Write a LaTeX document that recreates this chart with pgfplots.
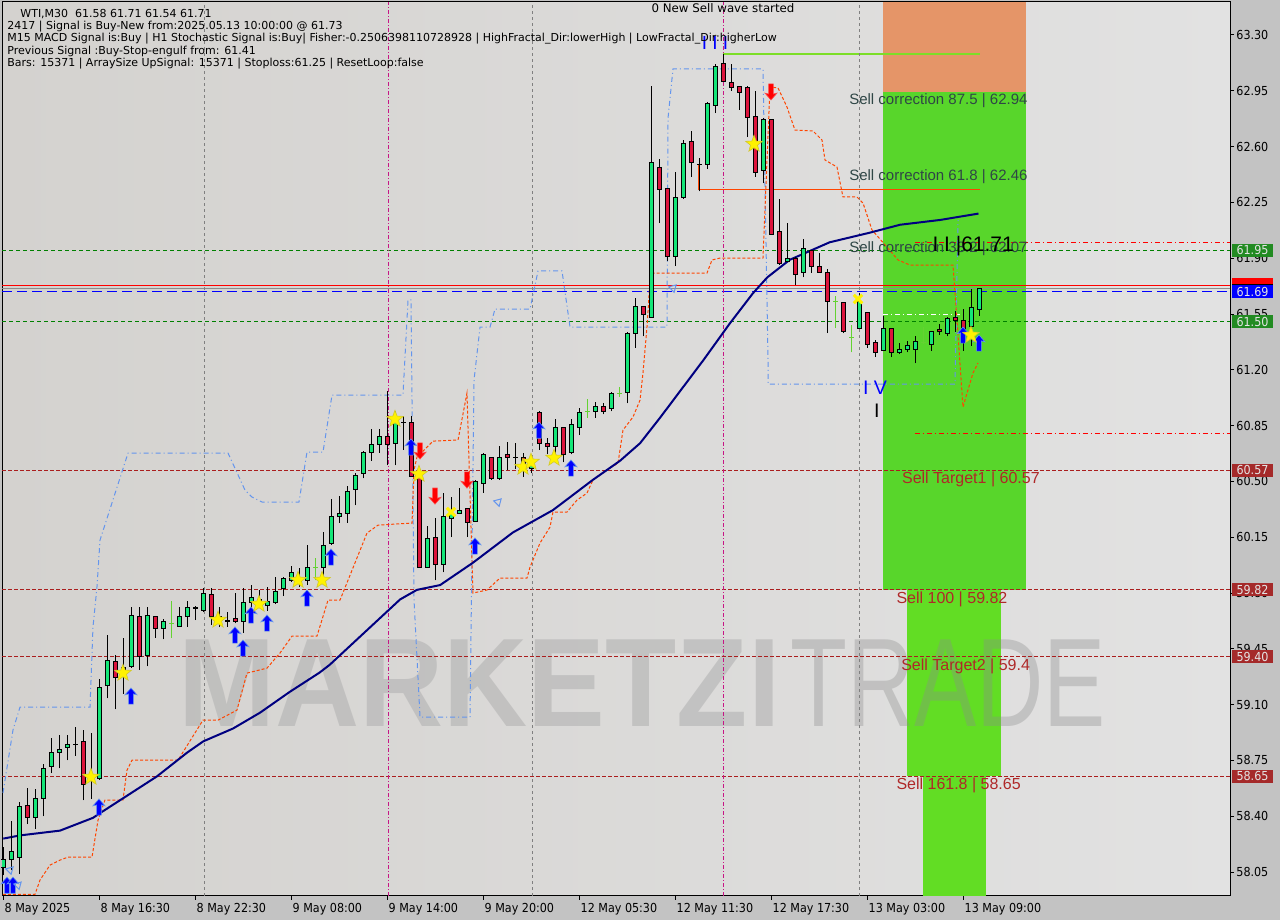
\documentclass[border=0pt]{standalone}
\usepackage{fontspec}
\setmainfont{Liberation Sans}
\newfontfamily\tah{DejaVu Sans Condensed}
\newfontfamily\dvs{DejaVu Sans}
\usepackage{pgfplots}
\usepackage{pgfplotstable}
\pgfplotsset{compat=1.18}

\definecolor{cOut}{RGB}{195,195,195}
\definecolor{bgL}{RGB}{212,210,207}
\definecolor{bgR}{RGB}{226,226,226}
\definecolor{cG}{RGB}{20,230,120}
\definecolor{cR}{RGB}{220,20,60}
\definecolor{cL}{RGB}{100,210,50}
\definecolor{cMA}{RGB}{0,0,128}
\definecolor{cCorn}{RGB}{100,149,237}
\definecolor{cOr}{RGB}{255,69,0}
\definecolor{cDG}{RGB}{0,128,0}
\definecolor{cBr}{RGB}{170,30,30}
\definecolor{cMag}{RGB}{199,21,133}
\definecolor{cZone}{RGB}{88,214,43}
\definecolor{cZone2}{RGB}{98,221,36}
\definecolor{cSal}{RGB}{229,149,104}
\definecolor{cTxt}{RGB}{47,70,70}
\definecolor{cTgt}{RGB}{175,40,40}
\definecolor{cLime}{RGB}{124,222,40}
\definecolor{cBoxG}{RGB}{34,139,34}
\definecolor{cBoxB}{RGB}{0,0,255}
\definecolor{cBoxR}{RGB}{165,42,42}

% candles: index, low, body low, body high, high
\pgfplotstableread{
i L B T H
0 58.03 58.08 58.13 58.21
1 58.06 58.13 58.18 58.37
2 58.04 58.14 58.46 58.49
4 58.32 58.39 58.51 58.57
5 58.40 58.51 58.70 58.73
6 58.67 58.71 58.80 58.89
7 58.70 58.80 58.82 58.91
8 58.75 58.83 58.85 58.91
11 58.51 58.63 58.65 58.92
12 58.63 58.64 59.21 59.26
13 59.14 59.22 59.38 59.54
15 59.17 59.30 59.33 59.52
16 59.33 59.34 59.66 59.71
18 59.34 59.41 59.66 59.71
20 59.51 59.58 59.62 59.64
22 59.59 59.59 59.65 59.71
23 59.59 59.65 59.71 59.75
25 59.68 59.69 59.80 59.83
27 59.59 59.63 59.65 59.71
28 59.59 59.62 59.63 59.68
30 59.55 59.62 59.74 59.83
31 59.68 59.74 59.77 59.85
32 59.71 59.74 59.76 59.82
33 59.69 59.72 59.75 59.84
34 59.73 59.74 59.81 59.90
35 59.78 59.83 59.89 59.90
36 59.87 59.88 59.93 59.97
37 59.84 59.87 59.89 59.96
38 59.85 59.88 59.96 60.10
40 59.87 59.96 60.10 60.18
41 60.10 60.11 60.28 60.39
42 60.24 60.28 60.30 60.41
43 60.24 60.30 60.44 60.47
44 60.35 60.45 60.54 60.55
45 60.52 60.55 60.68 60.69
46 60.63 60.68 60.73 60.83
47 60.68 60.73 60.78 60.83
49 60.60 60.74 60.87 60.94
53 59.96 59.96 60.14 60.22
55 59.93 59.98 60.28 60.43
56 60.15 60.27 60.30 60.40
57 60.30 60.30 60.32 60.46
59 60.25 60.25 60.50 60.51
60 60.43 60.49 60.67 60.68
62 60.51 60.52 60.65 60.72
66 60.55 60.58 60.62 60.65
69 60.65 60.72 60.84 60.89
71 60.67 60.68 60.86 60.89
72 60.79 60.84 60.93 60.96
74 60.90 60.94 60.97 61.00
76 60.94 60.96 61.05 61.06
78 60.99 61.06 61.43 61.44
79 61.34 61.43 61.60 61.65
81 61.53 61.53 62.50 62.98
84 61.85 61.91 62.28 62.44
85 62.27 62.28 62.62 62.64
88 62.46 62.49 62.87 62.88
89 62.81 62.86 63.10 63.12
95 62.37 62.45 62.77 62.78
98 61.88 61.88 61.90 62.12
100 61.78 61.81 61.96 62.02
107 61.46 61.46 61.63 61.68
110 61.32 61.32 61.46 61.54
112 61.30 61.31 61.33 61.37
113 61.31 61.33 61.35 61.38
114 61.24 61.33 61.38 61.41
116 61.32 61.36 61.44 61.44
118 61.41 61.43 61.52 61.53
121 61.35 61.47 61.59 61.71
122 61.54 61.58 61.71 61.71
}\candG
\pgfplotstableread{
i L B T H
3 58.35 58.39 58.47 58.58
10 58.50 58.60 58.87 58.94
14 59.07 59.27 59.37 59.41
17 59.32 59.40 59.65 59.71
19 59.52 59.58 59.65 59.65
24 59.63 59.70 59.71 59.72
26 59.60 59.65 59.79 59.83
29 59.61 59.62 59.64 59.80
48 60.60 60.73 60.78 61.07
51 60.53 60.53 60.87 60.91
52 59.96 59.96 60.53 60.57
54 59.88 59.98 60.15 60.27
58 60.15 60.24 60.33 60.33
61 60.51 60.52 60.65 60.65
63 60.57 60.65 60.67 60.75
65 60.53 60.60 60.65 60.68
67 60.70 60.74 60.93 60.94
68 60.67 60.72 60.74 60.77
70 60.62 60.67 60.84 60.84
75 60.92 60.94 60.97 60.99
80 61.41 61.55 61.60 61.60
82 62.12 62.33 62.47 62.52
83 61.88 61.91 62.34 62.34
86 62.41 62.50 62.63 62.70
90 63.01 63.01 63.12 63.18
91 62.95 62.97 63.00 63.12
92 62.83 62.94 62.98 62.98
93 62.66 62.78 62.97 62.98
94 62.41 62.44 62.79 62.95
96 62.05 62.05 62.77 62.77
97 61.86 61.87 62.07 62.27
99 61.73 61.80 61.90 61.91
101 61.81 61.85 61.95 61.95
102 61.81 61.81 61.85 61.93
103 61.43 61.63 61.81 61.83
105 61.43 61.44 61.62 61.62
108 61.34 61.36 61.56 61.56
109 61.28 61.31 61.37 61.39
111 61.28 61.31 61.46 61.46
117 61.42 61.44 61.45 61.49
119 61.44 61.51 61.53 61.57
120 61.32 61.44 61.51 61.58
}\candR
\pgfplotstableread{
i L B T H
9 58.78 58.85 58.85 58.96
50 60.70 60.87 60.87 60.91
64 60.58 60.65 60.65 60.74
87 62.32 62.49 62.49 62.53
}\candD
\pgfplotstableread{
i L B T H
21 59.52 59.61 59.61 59.75
39 59.88 59.96 59.96 60.02
73 60.90 60.94 60.94 61.02
77 61.03 61.05 61.05 61.09
104 61.46 61.63 61.63 61.66
106 61.31 61.40 61.40 61.48
115 61.36 61.37 61.37 61.47
}\candL

\pgfdeclareplotmark{fstar}{%
 \pgfpathmoveto{\pgfpointpolar{90}{\pgfplotmarksize}}%
 \pgfpathlineto{\pgfpointpolar{126}{0.42\pgfplotmarksize}}%
 \pgfpathlineto{\pgfpointpolar{162}{\pgfplotmarksize}}%
 \pgfpathlineto{\pgfpointpolar{198}{0.42\pgfplotmarksize}}%
 \pgfpathlineto{\pgfpointpolar{234}{\pgfplotmarksize}}%
 \pgfpathlineto{\pgfpointpolar{270}{0.42\pgfplotmarksize}}%
 \pgfpathlineto{\pgfpointpolar{306}{\pgfplotmarksize}}%
 \pgfpathlineto{\pgfpointpolar{342}{0.42\pgfplotmarksize}}%
 \pgfpathlineto{\pgfpointpolar{18}{\pgfplotmarksize}}%
 \pgfpathlineto{\pgfpointpolar{54}{0.42\pgfplotmarksize}}%
 \pgfpathclose\pgfusepathqfillstroke}
\pgfdeclareplotmark{uarr}{%
 \pgfpathmoveto{\pgfpoint{0pt}{1.35\pgfplotmarksize}}%
 \pgfpathlineto{\pgfpoint{1.0\pgfplotmarksize}{0.2\pgfplotmarksize}}%
 \pgfpathlineto{\pgfpoint{0.4\pgfplotmarksize}{0.35\pgfplotmarksize}}%
 \pgfpathlineto{\pgfpoint{0.4\pgfplotmarksize}{-1.35\pgfplotmarksize}}%
 \pgfpathlineto{\pgfpoint{-0.4\pgfplotmarksize}{-1.35\pgfplotmarksize}}%
 \pgfpathlineto{\pgfpoint{-0.4\pgfplotmarksize}{0.35\pgfplotmarksize}}%
 \pgfpathlineto{\pgfpoint{-1.0\pgfplotmarksize}{0.2\pgfplotmarksize}}%
 \pgfpathclose\pgfusepathqfillstroke}
\pgfdeclareplotmark{darr}{%
 \pgfpathmoveto{\pgfpoint{0pt}{-1.35\pgfplotmarksize}}%
 \pgfpathlineto{\pgfpoint{1.0\pgfplotmarksize}{-0.2\pgfplotmarksize}}%
 \pgfpathlineto{\pgfpoint{0.4\pgfplotmarksize}{-0.35\pgfplotmarksize}}%
 \pgfpathlineto{\pgfpoint{0.4\pgfplotmarksize}{1.35\pgfplotmarksize}}%
 \pgfpathlineto{\pgfpoint{-0.4\pgfplotmarksize}{1.35\pgfplotmarksize}}%
 \pgfpathlineto{\pgfpoint{-0.4\pgfplotmarksize}{-0.35\pgfplotmarksize}}%
 \pgfpathlineto{\pgfpoint{-1.0\pgfplotmarksize}{-0.2\pgfplotmarksize}}%
 \pgfpathclose\pgfusepathqfillstroke}

% wick from low to high
\newcommand\Wick[2]{\addplot[draw=none, mark=none, error bars/.cd, y dir=plus, y explicit, error mark=none, error bar style={draw=#2, line width=0.5pt}] table[x=i, y=L, y error plus expr=\thisrow{H}-\thisrow{L}] {#1};}
% body from B to T
\newcommand\Body[3]{\addplot[draw=none, mark=none, error bars/.cd, y dir=plus, y explicit, error mark=none, error bar style={draw=#2, line width=#3}] table[x=i, y=B, y error plus expr=\thisrow{T}-\thisrow{B}] {#1};}
\newcommand\Cap[3]{\addplot[only marks, mark=-, mark size=1.3pt, mark options={draw=#3, line width=0.5pt}] table[x=i, y=#2] {#1};}
\newcommand\hdr{\dvs\fontsize{5.5}{6}\selectfont}

\begin{document}
\begin{tikzpicture}
\fill[cOut] (0,0) rectangle (640pt,460pt);
\path[use as bounding box] (0,0) rectangle (640pt,460pt);
\begin{axis}[
 at={(1pt,12pt)}, anchor=south west,
 scale only axis, width=614pt, height=447pt,
 xmin=-0.1625, xmax=153.3375, ymin=57.90, ymax=63.507,
 axis line style={black, line width=0.5pt},
 axis background/.style={left color=bgL, right color=bgR},
 xtick={0,12,24,36,48,60,72,84,96,108,120},
 xticklabels={8 May 2025, 8 May 16:30, 8 May 22:30, 9 May 08:00, 9 May 14:00, 9 May 20:00, 12 May 05:30, 12 May 11:30, 12 May 17:30, 13 May 03:00, 13 May 09:00},
 ytick={58.05,58.40,58.75,59.10,59.45,59.80,60.15,60.50,60.85,61.20,61.55,61.90,62.25,62.60,62.95,63.30},
 yticklabel pos=right, xtick pos=left, ytick pos=right,
 tick align=outside, major tick length=2pt,
 tick style={black, line width=0.5pt},
 /pgf/number format/assume math mode=true,
 yticklabel style={/pgf/number format/.cd, fixed, fixed zerofill, precision=2, /tikz/.cd, anchor=west, inner sep=0pt, xshift=1pt},
 xticklabel style={anchor=north west, inner sep=0pt, xshift=0.5pt, yshift=-1.5pt},
 tick label style={font=\tah\fontsize{6.2}{7}\selectfont, text=black},
 clip=true,
]
% zones
\addplot[fill=cSal, draw=none] coordinates {(109.96,62.94) (127.8,62.94) (127.8,63.507) (109.96,63.507)} --cycle;
\addplot[fill=cZone, draw=none] coordinates {(109.96,59.82) (127.8,59.82) (127.8,62.94) (109.96,62.94)} --cycle;
\addplot[fill=cZone2, draw=none] coordinates {(112.96,58.65) (124.7,58.65) (124.7,59.82) (112.96,59.82)} --cycle;
\addplot[fill=cZone2, draw=none] coordinates {(114.96,57.90) (122.8,57.90) (122.8,58.65) (114.96,58.65)} --cycle;
% watermark
\node[anchor=base west, inner sep=0, text=black!30, opacity=0.6, font=\bfseries\fontsize{63}{63}\selectfont] at (axis cs:21.84,58.96) {\scalebox{0.925}[1]{MARKETZI}};
\node[anchor=base west, inner sep=0, text=black!45, opacity=0.35, font=\fontsize{63}{63}\selectfont] at (axis cs:98.3,58.96) {\scalebox{0.74}[1]{TRADE}};
% horizontal levels
\addplot[cDG, line width=0.5pt, dash pattern=on 2pt off 1.5pt] coordinates {(-0.1625,61.95) (153.3375,61.95)};
\addplot[cDG, line width=0.5pt, dash pattern=on 2pt off 1.5pt] coordinates {(-0.1625,61.50) (153.3375,61.50)};
\addplot[cBr, line width=0.5pt, dash pattern=on 2pt off 1pt] coordinates {(-0.1625,60.57) (153.3375,60.57)};
\addplot[cBr, line width=0.5pt, dash pattern=on 2pt off 1pt] coordinates {(-0.1625,59.82) (153.3375,59.82)};
\addplot[cBr, line width=0.5pt, dash pattern=on 2pt off 1pt] coordinates {(-0.1625,59.40) (153.3375,59.40)};
\addplot[cBr, line width=0.5pt, dash pattern=on 2pt off 1pt] coordinates {(-0.1625,58.65) (153.3375,58.65)};
\addplot[red, line width=0.5pt] coordinates {(-0.1625,61.732) (153.3375,61.732)};
\addplot[black!45, line width=0.5pt] coordinates {(-0.1625,61.71) (153.3375,61.71)};
\addplot[blue, line width=0.5pt, dash pattern=on 5pt off 2.5pt] coordinates {(-0.1625,61.69) (153.3375,61.69)};
\addplot[red, line width=0.5pt, dash pattern=on 2.5pt off 1.5pt on 0.5pt off 1.5pt] coordinates {(113.96,62.00) (153.3375,62.00)};
\addplot[red, line width=0.5pt, dash pattern=on 2.5pt off 1.5pt on 0.5pt off 1.5pt] coordinates {(113.96,60.80) (153.3375,60.80)};
\addplot[white, line width=0.5pt, dash pattern=on 2.5pt off 1.5pt on 0.5pt off 1.5pt] coordinates {(109.96,61.544) (119.96,61.544)};
\addplot[cLime, line width=0.75pt] coordinates {(89.96,63.18) (122.1,63.18)};
\addplot[cOr, line width=0.75pt] coordinates {(86.96,62.49) (86.96,62.33) (122.1,62.33)};
% vertical lines
\addplot[black!50, line width=0.5pt, dash pattern=on 1.5pt off 1.5pt] coordinates {(25.1,57.9) (25.1,63.507)};
\addplot[black!50, line width=0.5pt, dash pattern=on 1.5pt off 1.5pt] coordinates {(66.1,57.9) (66.1,63.507)};
\addplot[black!50, line width=0.5pt, dash pattern=on 1.5pt off 1.5pt] coordinates {(107.0,57.9) (107.0,63.507)};
\addplot[cMag, line width=0.5pt, dash pattern=on 2pt off 1pt on 0.5pt off 1pt] coordinates {(48.1,57.9) (48.1,63.507)};
\addplot[cMag, line width=0.5pt, dash pattern=on 2pt off 1pt on 0.5pt off 1pt] coordinates {(90.0,57.9) (90.0,63.507)};
% fractal channel (light blue)
\addplot[cCorn, line width=0.5pt, dash pattern=on 2.5pt off 1.5pt on 0.5pt off 1.5pt] coordinates {
(-0.04,58.546) (1.21,58.941) (2.09,59.085) (10.84,59.085) (11.21,59.587) (11.71,59.838) (12.09,60.132) (15.59,60.678) (28.09,60.678) (30.21,60.446) (31.09,60.402) (32.34,60.371) (36.96,60.371) (37.96,60.684) (39.96,60.684) (41.09,61.042) (49.96,61.042) (50.59,61.638) (50.96,61.638) (51.34,59.756) (52.09,59.022) (58.34,59.022) (58.84,61.136) (59.59,61.468) (60.84,61.468) (61.46,61.581) (65.84,61.581) (66.84,61.820) (69.84,61.820) (70.84,61.468) (82.96,61.468) (83.09,62.779) (83.71,63.087) (94.96,63.087) (95.59,61.261) (95.59,61.111) (118.96,61.111) (119.34,62.139)};
% trailing stop (orange)
\addplot[cOr, line width=0.5pt, dash pattern=on 1.5pt off 1pt] coordinates {
(-0.04,57.91) (3.96,57.91) (4.59,58.00) (5.84,58.094) (7.09,58.125) (8.09,58.144) (11.09,58.144) (11.84,58.376) (12.71,58.502) (14.96,58.502) (15.46,58.689) (16.09,58.752) (21.84,58.752) (24.96,59.003) (26.84,59.003) (29.21,59.066) (30.46,59.298) (32.96,59.329) (34.59,59.424) (36.09,59.530) (39.21,59.530) (40.59,59.756) (42.09,59.756) (45.46,60.176) (46.84,60.226) (51.09,60.239) (51.34,60.572) (51.71,60.653) (53.71,60.753) (56.84,60.760) (57.96,61.054) (58.71,59.800) (60.46,59.819) (62.09,59.894) (65.46,59.894) (65.84,59.963) (67.09,60.114) (68.34,60.214) (68.71,60.308) (70.46,60.308) (71.71,60.383) (72.96,60.427) (73.71,60.509) (75.46,60.572) (76.84,60.615) (77.46,60.822) (78.71,60.904) (79.59,61.010) (79.96,61.180) (80.46,61.468) (80.84,61.763) (81.09,61.807) (87.96,61.807) (88.59,61.889) (89.59,61.901) (94.96,61.901) (95.84,62.974) (96.84,62.968) (97.96,62.848) (98.96,62.704) (101.21,62.698) (102.34,62.641) (102.71,62.516) (104.21,62.472) (104.96,62.284) (106.71,62.284) (107.46,62.246) (108.59,62.077) (110.46,61.970) (111.84,61.889) (113.34,61.857) (118.71,61.857) (119.21,61.512) (119.96,60.967) (121.21,61.180) (121.84,61.243)};
% moving average
\addplot[cMA, line width=1pt] coordinates {(0,58.26) (2.09,58.28) (7.09,58.31) (11.2,58.39) (12.1,58.42) (15.5,58.53) (19.2,58.65) (23.0,58.80) (25.0,58.87) (28.7,58.95) (32.1,59.05) (35.8,59.18) (39.5,59.30) (40.8,59.35) (49.6,59.76) (51.7,59.82) (54.6,59.85) (58.7,59.99) (63.7,60.18) (68.7,60.32) (73.7,60.51) (77.1,60.63) (79.6,60.74) (82.1,60.90) (87.5,61.26) (90.8,61.49) (93.7,61.68) (95.5,61.78) (98.3,61.89) (103.3,62.00) (108.3,62.06) (112.1,62.11) (117.1,62.14) (121.9,62.18)};
% candles
\Wick{\candG}{black}
\Wick{\candR}{black}
\Wick{\candD}{black}
\Wick{\candL}{cL}
\Body{\candG}{black}{2.7pt}
\Body{\candR}{black}{2.7pt}
\Body{\candG}{cG}{1.7pt}
\Body{\candR}{cR}{1.7pt}
\Cap{\candG}{B}{black}
\Cap{\candG}{T}{black}
\Cap{\candR}{B}{black}
\Cap{\candR}{T}{black}
\Cap{\candD}{B}{black}
\Cap{\candL}{B}{cL}
% signal marks
\addplot[only marks, mark=uarr, mark size=3pt, blue, mark options={fill=blue, draw=cCorn, line width=0.3pt}] coordinates {(0.46,57.968) (1.21,57.968) (11.96,58.458) (15.96,59.154) (28.96,59.537) (29.96,59.455) (30.96,59.662) (32.96,59.612) (37.96,59.769) (40.96,60.026) (50.96,60.716) (58.96,60.095) (66.96,60.822) (70.96,60.584) (119.96,61.418) (121.96,61.368)};
\addplot[only marks, mark=darr, mark size=3pt, red, mark options={fill=red, draw=red!70!white, line width=0.3pt}] coordinates {(52.09,60.691) (53.96,60.408) (57.96,60.509) (95.96,62.943)};
\addplot[only marks, mark=triangle, mark size=2.2pt, mark options={rotate=-45, draw=cCorn, fill=white, line width=0.5pt}] coordinates {(0.84,58.063) (1.84,57.968) (61.84,60.371) (83.71,61.713)};
\addplot[only marks, mark=fstar, mark size=4.4pt, mark options={fill=yellow, draw=yellow!80!black, line width=0.3pt}] coordinates {(10.96,58.646) (14.96,59.298) (26.84,59.631) (31.96,59.731) (36.84,59.881) (39.84,59.881) (48.96,60.891) (51.96,60.546) (64.96,60.590) (65.96,60.622) (68.84,60.647) (93.84,62.616) (120.96,61.418)};
\addplot[only marks, mark=x, mark size=3pt, mark options={draw=yellow, line width=1.5pt}] coordinates {(55.96,60.308) (106.84,61.644)};
% texts
\node[anchor=west, inner sep=0, text=cTxt, font=\fontsize{7.5}{8}\selectfont] at (axis cs:105.7,62.886) {Sell correction 87.5 | 62.94};
\node[anchor=west, inner sep=0, text=cTxt, font=\fontsize{7.5}{8}\selectfont] at (axis cs:105.7,62.409) {Sell correction 61.8 | 62.46};
\node[anchor=west, inner sep=0, text=cTxt, font=\fontsize{7.5}{8}\selectfont] at (axis cs:105.7,61.958) {Sell correction 38.2 | 62.07};
\node[anchor=west, inner sep=0, text=black, font=\fontsize{10.5}{11}\selectfont] at (axis cs:116.1,61.976) {I I |61.71};
\node[anchor=west, inner sep=0, text=cTgt, font=\fontsize{8}{9}\selectfont] at (axis cs:112.3,60.515) {Sell Target1 | 60.57};
\node[anchor=west, inner sep=0, text=cTgt, font=\fontsize{8}{9}\selectfont] at (axis cs:111.6,59.763) {Sell 100 | 59.82};
\node[anchor=west, inner sep=0, text=cTgt, font=\fontsize{8}{9}\selectfont] at (axis cs:112.2,59.342) {Sell Target2 | 59.4};
\node[anchor=west, inner sep=0, text=cTgt, font=\fontsize{8}{9}\selectfont] at (axis cs:111.6,58.596) {Sell 161.8 | 58.65};
\node[inner sep=0, text=blue, font=\fontsize{9.5}{10}\selectfont] at (axis cs:88.96,63.25) {I I I};
\node[inner sep=0, text=blue, font=\fontsize{9.8}{10}\selectfont] at (axis cs:108.97,61.086) {I V};
\node[inner sep=0, text=black, font=\fontsize{9.8}{10}\selectfont] at (axis cs:109.2,60.942) {I};
% right-side price tags anchors
\coordinate (t1) at (axis cs:153.3375,61.95);
\coordinate (t2) at (axis cs:153.3375,61.69);
\coordinate (t3) at (axis cs:153.3375,61.50);
\coordinate (t4) at (axis cs:153.3375,60.57);
\coordinate (t5) at (axis cs:153.3375,59.82);
\coordinate (t6) at (axis cs:153.3375,59.40);
\coordinate (t7) at (axis cs:153.3375,58.65);
\coordinate (t8) at (axis cs:153.3375,61.757);
\coordinate (t9) at (axis cs:153.3375,61.732);
\end{axis}
% price tags
\tikzset{tag/.style={anchor=west, inner sep=0pt, minimum width=20.5pt, minimum height=6.5pt, xshift=0.8pt, text={rgb,255:red,228;green,228;blue,228}, font=\tah\fontsize{6.2}{7}\selectfont}}
\node[tag, fill=red, minimum height=3pt] at (t8) {};
\node[tag, fill=black, minimum height=1.5pt] at (t9) {};
\node[tag, fill=cBoxG] at (t1) {61.95};
\node[tag, fill=cBoxB] at (t2) {61.69};
\node[tag, fill=cBoxG] at (t3) {61.50};
\node[tag, fill=cBoxR] at (t4) {60.57};
\node[tag, fill=cBoxR] at (t5) {59.82};
\node[tag, fill=cBoxR] at (t6) {59.40};
\node[tag, fill=cBoxR] at (t7) {58.65};
% header
\node[anchor=base west, inner sep=0, font=\hdr] at (10pt,451.35pt) {WTI,M30\ \ 61.58 61.71 61.54 61.71};
\node[anchor=base west, inner sep=0, font=\hdr] at (3.5pt,445.2pt) {2417 | Signal is Buy-New from:2025.05.13 10:00:00 @ 61.73};
\node[anchor=base west, inner sep=0, font=\hdr] at (3.5pt,439.0pt) {M15 MACD Signal is:Buy | H1 Stochastic Signal is:Buy| Fisher:-0.2506398110728928 | HighFractal\_Dir:lowerHigh | LowFractal\_Dir:higherLow};
\node[anchor=base west, inner sep=0, font=\hdr] at (3.5pt,432.8pt) {Previous Signal :Buy-Stop-engulf from: 61.41};
\node[anchor=base west, inner sep=0, font=\hdr] at (3.5pt,426.65pt) {Bars: 15371 | ArraySize UpSignal: 15371 | Stoploss:61.25 | ResetLoop:false};
\node[anchor=base, inner sep=0, font=\dvs\fontsize{5.9}{6}\selectfont] at (361.5pt,453.5pt) {0 New Sell wave started};
\end{tikzpicture}
\end{document}
